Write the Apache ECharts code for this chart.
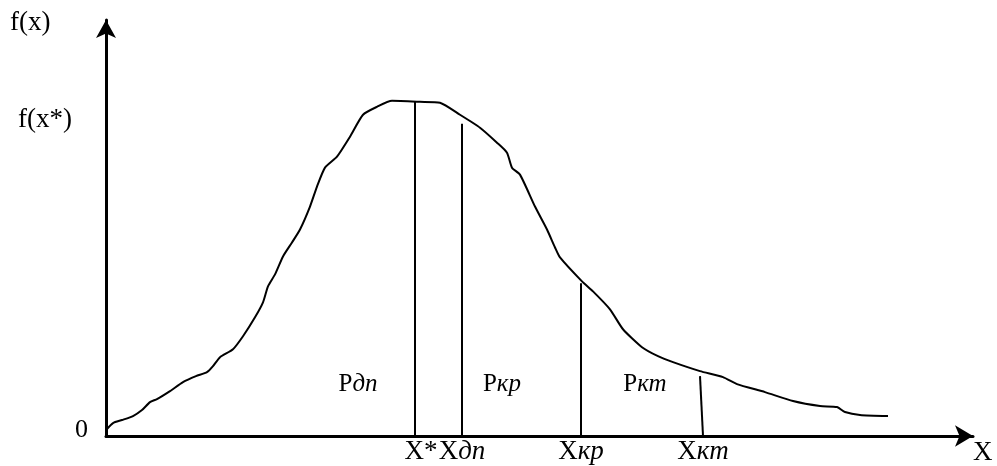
<!DOCTYPE html>
<html>
<head>
<meta charset="utf-8">
<title>f(x)</title>
<script src="https://cdn.jsdelivr.net/npm/echarts/dist/echarts.min.js"></script>
<style>
  html, body { margin: 0; padding: 0; background: #fff; }
  #chart { width: 997px; height: 466px; }
</style>
</head>
<body>
<div id="chart"></div>
<script>
  // кривая плотности f(x)
  var curveX = [1, 7, 16, 27, 36, 44, 51, 64, 77, 90, 101, 107, 114, 127, 137, 149, 157, 162, 169, 177,
    186, 194, 204, 211, 219, 231, 244, 257, 271, 286, 314, 334, 354, 374, 391, 401, 406, 414, 429, 441,
    449, 454, 476, 487, 504, 517, 536, 552, 567, 594, 617, 631, 659, 687, 714, 731, 739, 754, 782]
  var curveY = [7, 13, 16, 20, 26, 34, 37, 45, 54, 60, 64, 70, 79, 87, 100, 119, 134, 150, 162, 180,
    194, 207, 230, 250, 269, 280, 300, 322, 330, 336, 335, 334, 322, 309, 294, 284, 269, 262, 230, 207,
    189, 179, 155, 145, 127, 107, 89, 80, 74, 65, 59, 52, 44, 35, 30, 29, 24, 21, 20]

  // вертикальные отметки X*, Xдп, Xкр, Xкт
  var markBaseX = [309, 356, 475, 597]
  var markTopX = [309, 356, 475, 594]
  var markTopY = [335, 313, 153, 60]
  var markLabels = ['{s|X*}', 'X{i|дп}', 'X{i|кр}', 'X{i|кт}']

  // подписи областей
  var areaLabels = ['P{i|дп}', 'P{i|кр}', 'P{i|кт}']
  var areaX = [252, 396, 539]
  var areaY = [52, 52, 52]

  // подписи оси Y
  var yTickValues = [0, 317]
  var yTickLabels = ['{z|0}', '{f|f(x*)}']

  var FONT = '"Liberation Serif", "Times New Roman", serif'

  var chart = echarts.init(document.getElementById('chart'))

  var curveData = curveX.map(function (x, i) { return [x, curveY[i]] })
  var markLineData = markBaseX.map(function (x, i) {
    return [{ coord: [x, 0] }, { coord: [markTopX[i], markTopY[i]] }]
  })
  var areaData = areaX.map(function (x, i) { return { value: [x, areaY[i]], name: areaLabels[i] } })

  chart.setOption({
    animation: false,
    backgroundColor: '#fff',
    title: {
      text: 'f(x)',
      left: 10,
      top: 9,
      padding: 0,
      textStyle: { fontFamily: FONT, fontSize: 27, fontWeight: 'normal', color: '#000' }
    },
    grid: {
      left: 106,
      right: 24,
      top: 20,
      bottom: 29
    },
    xAxis: {
      type: 'value',
      min: 0,
      max: 867,
      name: 'X',
      nameLocation: 'end',
      nameGap: 0,
      nameTextStyle: {
        fontFamily: FONT, fontSize: 27, color: '#000',
        align: 'left', verticalAlign: 'top', padding: [3, 0, 0, 0]
      },
      splitLine: { show: false },
      axisTick: { show: false },
      axisLine: {
        show: true,
        symbol: ['none', 'arrow'],
        symbolSize: [16, 18],
        lineStyle: { color: '#000', width: 3 }
      },
      axisLabel: {
        customValues: markBaseX,
        hideOverlap: false,
        margin: 2,
        color: '#000',
        fontFamily: FONT,
        fontSize: 27,
        formatter: function (v) {
          var i = markBaseX.indexOf(v)
          return i >= 0 ? markLabels[i] : ''
        },
        rich: {
          i: { fontFamily: FONT, fontSize: 27, fontStyle: 'italic', color: '#000' },
          s: { fontFamily: FONT, fontSize: 27, color: '#000', padding: [0, 0, 0, 12] }
        }
      }
    },
    yAxis: {
      type: 'value',
      min: 0,
      max: 417,
      splitLine: { show: false },
      axisTick: { show: false },
      axisLine: {
        show: true,
        symbol: ['none', 'arrow'],
        symbolSize: [15, 18],
        lineStyle: { color: '#000', width: 3 }
      },
      axisLabel: {
        customValues: yTickValues,
        margin: 18,
        color: '#000',
        formatter: function (v) {
          var i = yTickValues.indexOf(v)
          return i >= 0 ? yTickLabels[i] : ''
        },
        rich: {
          z: { fontFamily: FONT, fontSize: 26, color: '#000', padding: [0, 0, 12, 0] },
          f: { fontFamily: FONT, fontSize: 27, color: '#000', padding: [0, 16, 0, 0] }
        }
      }
    },
    series: [
      {
        name: 'f(x)',
        type: 'line',
        data: curveData,
        smooth: 0.2,
        symbol: 'none',
        lineStyle: { color: '#000', width: 2 },
        markLine: {
          silent: true,
          symbol: ['none', 'none'],
          label: { show: false },
          lineStyle: { color: '#000', width: 2, type: 'solid' },
          data: markLineData
        }
      },
      {
        name: 'areas',
        type: 'scatter',
        symbolSize: 0,
        itemStyle: { opacity: 1 },
        data: areaData,
        label: {
          show: true,
          position: 'inside',
          color: '#000',
          opacity: 1,
          fontFamily: FONT,
          fontSize: 25,
          formatter: function (p) { return p.name },
          rich: {
            i: { fontFamily: FONT, fontSize: 25, fontStyle: 'italic', color: '#000' }
          }
        }
      }
    ]
  })
</script>
</body>
</html>
